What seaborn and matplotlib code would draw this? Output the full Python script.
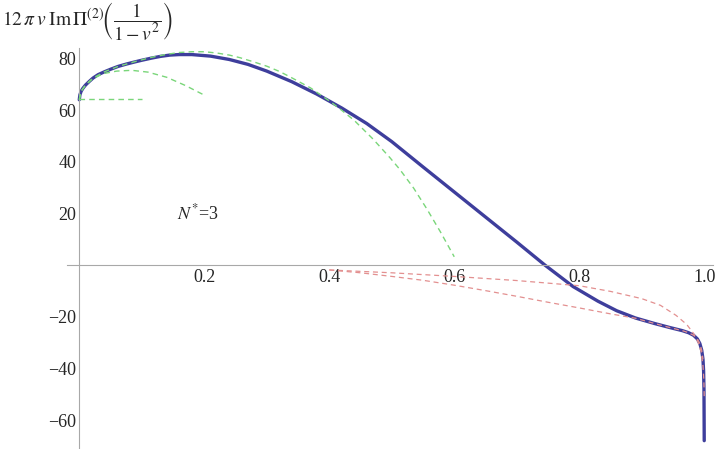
import numpy as np
import seaborn as sns
import matplotlib
matplotlib.use('Agg')
import matplotlib.pyplot as plt
from matplotlib.ticker import MultipleLocator, FixedLocator

# full curve
blue_x = [0, 0.001, 0.003, 0.006, 0.01, 0.016, 0.022, 0.03, 0.04, 0.05, 0.062, 0.075,
          0.088, 0.1, 0.115, 0.13, 0.145, 0.16, 0.18, 0.21, 0.24, 0.27, 0.3, 0.34,
          0.38, 0.42, 0.46, 0.5, 0.55, 0.6, 0.65, 0.7, 0.745, 0.79, 0.83, 0.86,
          0.89, 0.92, 0.945, 0.965, 0.975, 0.983, 0.989, 0.993, 0.996, 0.998,
          0.999, 0.9996, 1.0]
blue_y = [64.0, 65.9, 67.3, 68.5, 69.7, 71.1, 72.4, 73.7, 74.8, 75.8, 76.9, 77.8,
          78.6, 79.3, 80.1, 80.8, 81.3, 81.5, 81.5, 80.9, 79.6, 77.7, 75.1, 71.0,
          66.2, 60.8, 54.8, 47.8, 38.0, 28.3, 18.6, 8.9, 0.0, -8.3, -14.0, -17.7,
          -20.5, -22.6, -24.2, -25.4, -26.2, -27.2, -28.6, -30.4, -33.0, -36.5,
          -41.0, -48.0, -68.0]

# small-v expansions (green)
g1_x = [0, 0.1]
g1_y = [64.3, 64.3]
g2_x = [0, 0.003, 0.01, 0.022, 0.04, 0.06, 0.084, 0.11, 0.14, 0.17, 0.2]
g2_y = [64.0, 67.3, 69.7, 72.3, 74.2, 75.1, 75.4, 74.7, 72.7, 69.5, 65.8]
g3_x = [0, 0.003, 0.01, 0.022, 0.04, 0.062, 0.088, 0.115, 0.14, 0.16, 0.18, 0.2,
        0.22, 0.24, 0.257, 0.28, 0.3, 0.32, 0.337, 0.37, 0.401, 0.42, 0.44, 0.47,
        0.497, 0.513, 0.535, 0.556, 0.578, 0.6]
g3_y = [64.0, 67.3, 69.7, 72.4, 74.8, 76.9, 78.7, 80.4, 81.6, 82.3, 82.6, 82.6,
        82.1, 81.3, 80.3, 78.6, 77.0, 75.0, 72.9, 68.6, 63.4, 59.9, 56.0, 48.8,
        41.6, 37.0, 29.8, 21.8, 12.8, 3.2]

# v -> 1 expansions (red)
r1_x = [0.4, 0.5, 0.6, 0.7, 0.8, 0.85, 0.9, 0.93, 0.955, 0.972, 0.983, 0.99,
        0.995, 0.998, 0.9995, 1.0]
r1_y = [-1.9, -3.0, -4.4, -6.0, -8.0, -10.2, -13.0, -15.6, -19.5, -23.0, -26.5,
        -29.8, -33.5, -39.0, -45.0, -51.0]
r2_x = [0.4, 0.45, 0.5, 0.55, 0.6, 0.65, 0.7, 0.75, 0.8, 0.85, 0.89, 0.92, 0.945,
        0.965, 0.975, 0.983, 0.989, 0.993, 0.996, 0.998]
r2_y = [-1.9, -3.0, -4.4, -5.9, -7.8, -9.9, -12.1, -14.4, -16.6, -18.9, -20.6,
        -22.6, -24.2, -25.4, -26.2, -27.2, -28.6, -30.4, -33.0, -36.5]

x_ticks = [0.2, 0.4, 0.6, 0.8, 1.0]
y_ticks = [-60, -40, -20, 20, 40, 60, 80]

sns.set_style('white')
plt.rcParams['font.family'] = ['Liberation Serif', 'DejaVu Serif']
plt.rcParams['mathtext.fontset'] = 'stix'

fig = plt.figure(figsize=(7.18, 4.49), dpi=100)
ax = fig.add_axes([0.093, 0.0013, 0.900, 0.8927])

green = '#7ad67a'
red = '#e39090'
blue = '#3e3e9c'

sns.lineplot(x=blue_x, y=blue_y, ax=ax, color=blue, lw=2.4, sort=False, estimator=None, zorder=2)
for gx, gy in [(g1_x, g1_y), (g2_x, g2_y), (g3_x, g3_y)]:
    sns.lineplot(x=gx, y=gy, ax=ax, color=green, lw=1.0, linestyle=(0, (4, 3)),
                 sort=False, estimator=None, zorder=3)
for rx, ry in [(r1_x, r1_y), (r2_x, r2_y)]:
    sns.lineplot(x=rx, y=ry, ax=ax, color=red, lw=0.9, linestyle=(0, (4, 3)),
                 sort=False, estimator=None, zorder=3)

ax.set_xlim(-0.02, 1.014)
ax.set_ylim(-71, 84.2)

for s in ['top', 'right']:
    ax.spines[s].set_visible(False)
ax.spines['left'].set_position(('data', 0))
ax.spines['bottom'].set_position(('data', 0))
for s in ['left', 'bottom']:
    ax.spines[s].set_color('#a8a8a8')
    ax.spines[s].set_linewidth(0.8)

ax.xaxis.set_major_locator(FixedLocator(x_ticks))
ax.yaxis.set_major_locator(FixedLocator(y_ticks))
ax.xaxis.set_minor_locator(MultipleLocator(0.05))
ax.yaxis.set_minor_locator(MultipleLocator(5))
ax.tick_params(which='both', direction='in', color='#a8a8a8', width=0.8, labelsize=13)
ax.tick_params(which='major', length=4)
ax.tick_params(which='minor', length=2.5)
ax.tick_params(axis='x', pad=3)
ax.tick_params(axis='y', pad=2)
ax.set_xticklabels(['0.2', '0.4', '0.6', '0.8', '1.0'])
ax.set_xlabel('')
ax.set_ylabel('')

ax.text(0.19, 20, r'$N^{*}$=3', fontsize=13, ha='center', va='center')

fig.text(0.003, 0.952,
         r'$12\,\pi\,v\;\mathrm{Im}\,\Pi^{(2)}\!\left(\dfrac{1}{1-v^{2}}\right)$',
         fontsize=14, ha='left', va='center')

fig.savefig('out.png', dpi=100)
